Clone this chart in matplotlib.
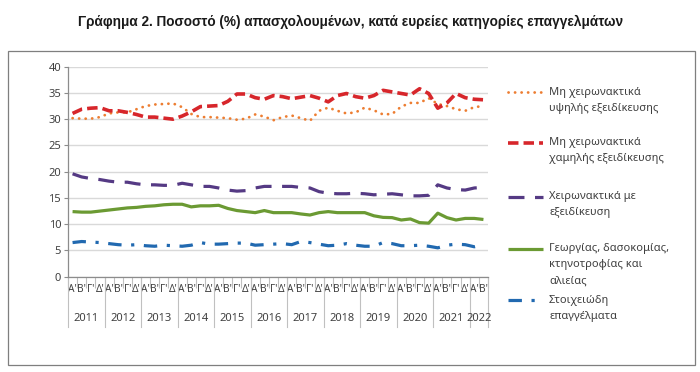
import numpy as np
import matplotlib
matplotlib.use("Agg")
import matplotlib.pyplot as plt
import matplotlib.transforms as mtransforms
from matplotlib.patches import Rectangle

plt.rcParams['font.family'] = ['Noto Sans', 'DejaVu Sans']

# data: quarterly shares, 2011 Q1 .. 2022 Q2
years = ['2011', '2012', '2013', '2014', '2015', '2016', '2017', '2018',
         '2019', '2020', '2021', '2022']
quarters = ["Α'", "Β'", "Γ'", "Δ'"]
n_quarters = [4] * 11 + [2]

high_skill = [30.2, 30.1, 30.1, 30.4, 31.1, 31.3, 31.3, 31.9, 32.5, 32.8, 32.9, 33.0,
              32.3, 31.0, 30.4, 30.4, 30.3, 30.2, 29.9, 30.1, 30.9, 30.5, 29.8, 30.4,
              30.7, 30.2, 29.7, 31.6, 32.2, 31.6, 31.1, 31.3, 32.2, 31.7, 30.9, 31.0,
              32.4, 33.1, 33.1, 34.0, 32.9, 32.5, 31.9, 31.6, 32.3, 32.5]
low_skill = [31.1, 31.9, 32.1, 32.2, 31.6, 31.6, 31.3, 30.9, 30.4, 30.4, 30.2, 30.0,
             30.6, 31.4, 32.4, 32.5, 32.6, 33.4, 34.8, 34.8, 34.1, 33.8, 34.5, 34.3,
             33.9, 34.2, 34.5, 34.0, 33.3, 34.5, 34.9, 34.3, 34.0, 34.5, 35.5, 35.2,
             34.9, 34.6, 35.8, 34.9, 32.1, 33.1, 34.9, 34.1, 33.8, 33.7]
skilled_manual = [19.6, 19.0, 18.7, 18.5, 18.2, 18.0, 18.0, 17.7, 17.5, 17.5, 17.4, 17.4,
                  17.8, 17.5, 17.2, 17.2, 16.9, 16.5, 16.3, 16.4, 16.9, 17.2, 17.2, 17.2,
                  17.2, 17.0, 16.9, 16.2, 15.9, 15.8, 15.8, 15.9, 15.8, 15.6, 15.7, 15.8,
                  15.6, 15.4, 15.4, 15.5, 17.5, 16.9, 16.6, 16.5, 16.9, 17.0]
agriculture = [12.4, 12.3, 12.3, 12.5, 12.7, 12.9, 13.1, 13.2, 13.4, 13.5, 13.7, 13.8,
               13.8, 13.3, 13.5, 13.5, 13.6, 13.0, 12.6, 12.4, 12.2, 12.6, 12.2, 12.2,
               12.2, 11.95, 11.75, 12.2, 12.4, 12.2, 12.2, 12.2, 12.2, 11.6, 11.3, 11.25,
               10.8, 11.0, 10.3, 10.2, 12.1, 11.25, 10.8, 11.1, 11.1, 10.9]
elementary = [6.5, 6.7, 6.6, 6.5, 6.3, 6.1, 6.0, 6.1, 5.9, 5.8, 6.0, 5.9,
              5.8, 6.0, 6.5, 6.2, 6.2, 6.3, 6.4, 6.4, 6.0, 6.1, 6.2, 6.3,
              6.1, 6.7, 6.5, 6.2, 5.9, 6.0, 6.3, 6.0, 5.8, 5.8, 6.5, 6.3,
              5.9, 5.9, 6.0, 5.8, 5.5, 6.0, 6.2, 6.1, 5.7, 6.1]

# line styles (colour, width, dash pattern)
styles = [
    dict(color='#ED7D31', lw=2.0, ls=(0, (0.05, 2.3)), dash_capstyle='round'),
    dict(color='#D7262B', lw=2.6, ls=(0, (2.9, 1.4))),
    dict(color='#553A84', lw=2.3, ls=(0, (5.0, 3.3))),
    dict(color='#6B9A33', lw=2.3, ls='-'),
    dict(color='#2169B0', lw=2.3, ls=(0, (4.2, 3.0, 1.0, 3.0))),
]
series = [high_skill, low_skill, skilled_manual, agriculture, elementary]
legend_lines = [
    ['Μη χειρωνακτικά', 'υψηλής εξειδίκευσης'],
    ['Μη χειρωνακτικά', 'χαμηλής εξειδίκευσης'],
    ['Χειρωνακτικά με', 'εξειδίκευση'],
    ['Γεωργίας, δασοκομίας,', 'κτηνοτροφίας και', 'αλιείας'],
    ['Στοιχειώδη', 'επαγγέλματα'],
]

W, H = 700, 372
fig = plt.figure(figsize=(7, 3.72), dpi=100)
ax = fig.add_axes([68 / W, 1 - 276.7 / H, 420 / W, 210 / H])

x = np.arange(len(high_skill))
for vals, st in zip(series, styles):
    ax.plot(x, vals, color=st['color'], lw=st['lw'], linestyle=st['ls'],
            dash_capstyle=st.get('dash_capstyle', 'butt'), solid_capstyle='butt')

ax.set_xlim(-0.5, len(x) - 0.5)
ax.set_ylim(0, 40)
ax.set_yticks(np.arange(0, 41, 5))
ax.yaxis.grid(True, color='#d9d9d9', lw=1)
ax.set_axisbelow(True)
for s in ['top', 'right']:
    ax.spines[s].set_visible(False)
for s in ['left', 'bottom']:
    ax.spines[s].set_color('#8c8c8c')
    ax.spines[s].set_linewidth(0.9)
ax.tick_params(axis='y', length=3, color='#8c8c8c', labelsize=8, labelcolor='#404040', pad=2)

# quarter labels + separators
qlabels = [quarters[q] for n in n_quarters for q in range(n)]
ax.set_xticks(x)
ax.set_xticklabels(qlabels)
ax.tick_params(axis='x', which='major', length=0, labelsize=7.3, labelcolor='#404040', pad=5)
ax.set_xticks(np.arange(-0.5, len(x), 1), minor=True)
ax.tick_params(axis='x', which='minor', length=8, color='#c0c0c0', width=0.8)

# year level
trans = mtransforms.blended_transform_factory(ax.transData, ax.transAxes)
bounds = np.concatenate([[0], np.cumsum(n_quarters)]) - 0.5
for b in bounds:
    ax.plot([b, b], [0, -0.24], transform=trans, clip_on=False, color='#c0c0c0', lw=0.8)
for yr, lo, hi in zip(years, bounds[:-1], bounds[1:]):
    ax.text((lo + hi) / 2, -0.197, yr, transform=trans, ha='center', va='center',
            fontsize=8, color='#404040')
ax.set_xlim(-0.5, len(x) - 0.5)
ax.set_ylim(0, 40)

# overlay in pixel coords: title, frame, legend
ov = fig.add_axes([0, 0, 1, 1], zorder=-1)
ov.set_xlim(0, W)
ov.set_ylim(H, 0)
ov.axis('off')
ov.add_patch(Rectangle((8, 50.5), 687, 314.5, fill=False, edgecolor='#7f7f7f', lw=0.9))
ov.text(351, 22, 'Γράφημα 2. Ποσοστό (%) απασχολουμένων, κατά ευρείες κατηγορίες επαγγελμάτων',
        ha='center', va='center', fontsize=9.8, fontweight='bold', color='#1a1a1a',
        family=['Liberation Sans', 'DejaVu Sans'])

leg_y = [92, 143, 197, 249, 300]
for y0, st, lines in zip(leg_y, styles, legend_lines):
    ov.plot([508, 543], [y0, y0], color=st['color'], lw=st['lw'], linestyle=st['ls'],
            dash_capstyle=st.get('dash_capstyle', 'butt'), solid_capstyle='butt')
    for k, line in enumerate(lines):
        ov.text(549, y0 + k * 16, line, ha='left', va='center', fontsize=8, color='#404040')

fig.savefig('out.png', dpi=100)
